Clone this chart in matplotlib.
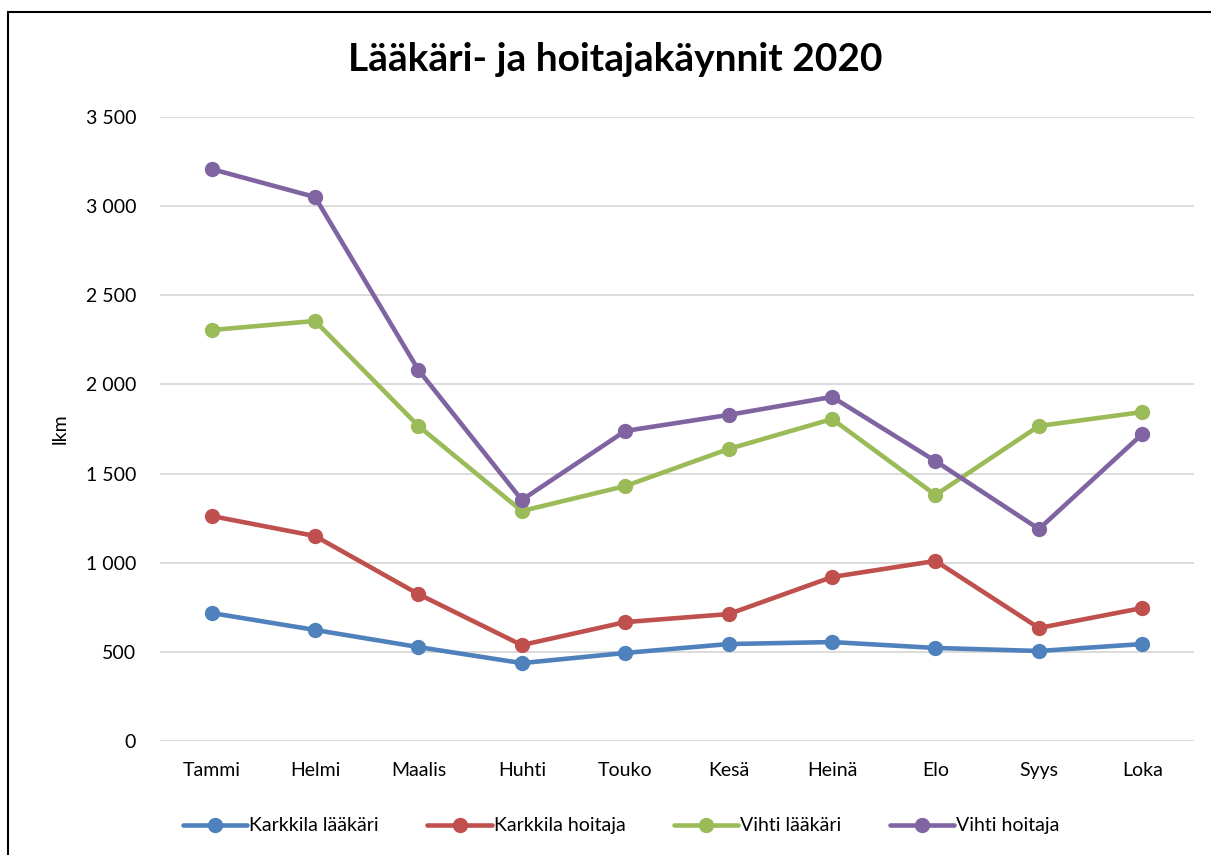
import matplotlib.pyplot as plt
from matplotlib.patches import Rectangle
from matplotlib.ticker import FuncFormatter

plt.rcParams['font.family'] = ['Lato', 'DejaVu Sans']

kuukaudet = ["Tammi", "Helmi", "Maalis", "Huhti", "Touko", "Kesä", "Heinä", "Elo", "Syys", "Loka"]
karkkila_laakari = [718, 623, 527, 437, 494, 544, 555, 522, 505, 544]
karkkila_hoitaja = [1262, 1150, 824, 538, 667, 712, 920, 1010, 634, 746]
vihti_laakari = [2305, 2356, 1767, 1290, 1430, 1638, 1806, 1380, 1767, 1845]
vihti_hoitaja = [3208, 3051, 2081, 1352, 1739, 1829, 1930, 1570, 1189, 1722]

sarjat = [
    ("Karkkila lääkäri", karkkila_laakari, "#4F81BD"),
    ("Karkkila hoitaja", karkkila_hoitaja, "#C0504D"),
    ("Vihti lääkäri", vihti_laakari, "#9BBB59"),
    ("Vihti hoitaja", vihti_hoitaja, "#8064A2"),
]

fig = plt.figure(figsize=(12.11, 8.55), dpi=100)
ax = fig.add_axes([0.132, 0.1333, 0.854, 0.7299])

x = list(range(len(kuukaudet)))
for nimi, arvot, vari in sarjat:
    ax.plot(x, arvot, color=vari, lw=3.3, marker="o", ms=10, label=nimi,
            solid_capstyle="round", zorder=3)

ax.set_xlim(-0.5, len(kuukaudet) - 0.5)
ax.set_ylim(0, 3500)
ax.set_yticks(range(0, 3501, 500))
ax.yaxis.set_major_formatter(FuncFormatter(lambda v, p: f"{int(v):,}".replace(",", " ")))
ax.set_xticks(x)
ax.set_xticklabels(kuukaudet)
ax.tick_params(axis="both", length=0, labelsize=14, colors="black")
ax.tick_params(axis="y", pad=17)
ax.tick_params(axis="x", pad=15)
ax.grid(axis="y", color="#D9D9D9", lw=1.3)
ax.set_axisbelow(True)
for s in ax.spines.values():
    s.set_visible(False)

ax.set_ylabel("lkm", fontsize=14, labelpad=12)
fig.text(0.508, 0.93, "Lääkäri- ja hoitajakäynnit 2020", ha="center", va="center",
         fontsize=28, fontweight="bold")

fig.legend(loc="center", bbox_to_anchor=(0.513, 0.034), ncol=4, frameon=False,
           fontsize=14, handlelength=3.3, handletextpad=0.1, columnspacing=2.5)

fig.patches.append(Rectangle((8 / 1211, -0.1), 1.2, 1.1 - 12 / 855, transform=fig.transFigure,
                             fill=False, edgecolor="black", lw=1.5))

fig.savefig("out.png", dpi=100)
